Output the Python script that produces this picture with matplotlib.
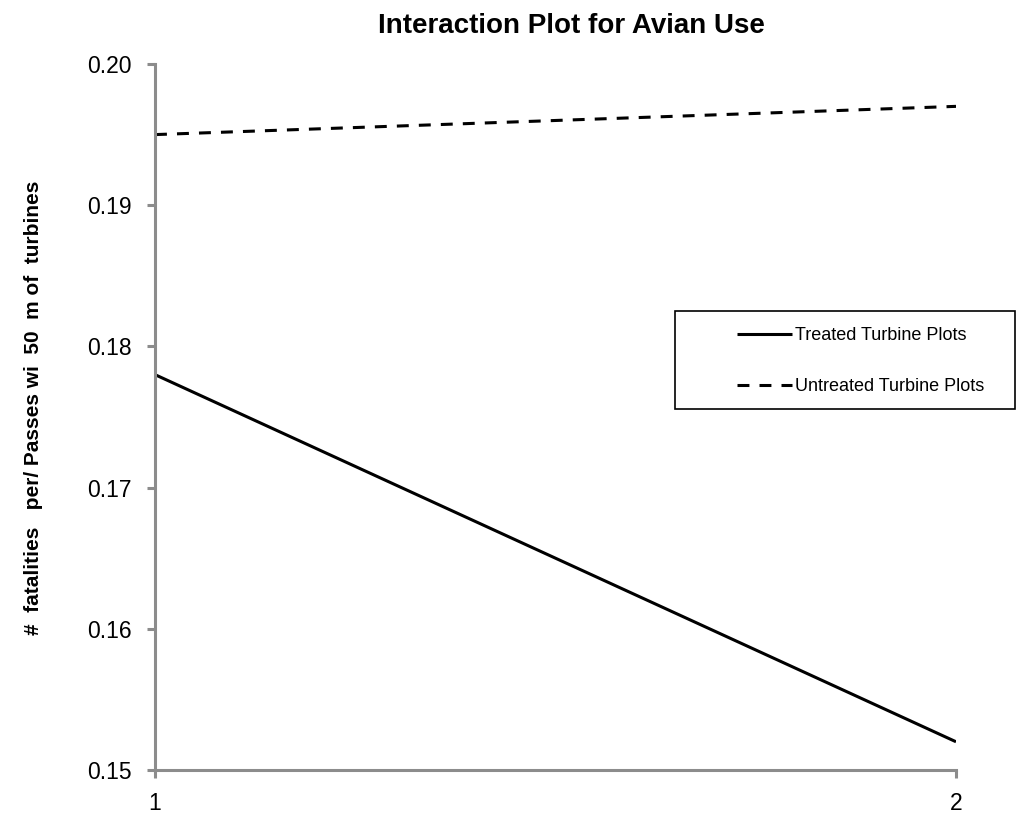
import numpy as np
import matplotlib.pyplot as plt
from matplotlib.patches import Rectangle

plt.rcParams['font.family'] = ['Liberation Sans', 'DejaVu Sans']

x = [1, 2]
treated = [0.178, 0.152]
untreated = [0.195, 0.197]
labels = ['Treated Turbine Plots', 'Untreated Turbine Plots']
yticks = [0.15, 0.16, 0.17, 0.18, 0.19, 0.20]

W, H = 1034, 817
fig = plt.figure(figsize=(W/100, H/100), dpi=100)
ax = fig.add_axes([155/W, 1 - 770/H, (956-155)/W, (770-64)/H])

dash = (0, (3.9, 3.3))
ax.plot(x, treated, color='black', lw=2.2, label=labels[0], solid_capstyle='butt')
ax.plot(x, untreated, color='black', lw=2.2, ls=dash, label=labels[1])

ax.set_xlim(1, 2)
ax.set_ylim(0.15, 0.20)
ax.set_xticks([1, 2])
ax.set_yticks(yticks)
ax.set_yticklabels([f'{v:.2f}' for v in yticks])
for s in ['top', 'right']:
    ax.spines[s].set_visible(False)
for s in ['left', 'bottom']:
    ax.spines[s].set_color('#8c8c8c')
    ax.spines[s].set_linewidth(2.2)
    ax.spines[s].set_zorder(5)
ax.tick_params(axis='y', direction='out', length=6, width=2.2, color='#8c8c8c',
               labelsize=16.5, pad=11)
ax.tick_params(axis='x', direction='out', length=6, width=2.2, color='#8c8c8c',
               labelsize=16.5, pad=10)

fig.text(571/W, 1 - 26/H, 'Interaction Plot for Avian Use', fontsize=20,
         fontweight='bold', ha='center', va='center')
fig.text(34/W, 1 - 408/H, '#  fatalities   per/ Passes wi  50  m of  turbines',
         fontsize=15, fontweight='bold', rotation=90, ha='center', va='center')

leg = fig.legend(loc='center left', bbox_to_anchor=(737/W, 1 - 361/H),
                 frameon=False, fontsize=13, handlelength=3.05,
                 borderpad=0, labelspacing=1.9, handletextpad=0.15,
                 borderaxespad=0)
fig.patches.append(Rectangle((675/W, 1 - 409/H), 340/W, 98/H,
                             transform=fig.transFigure, fill=False,
                             ec='black', lw=1.2))

fig.savefig('out.png', dpi=100)
